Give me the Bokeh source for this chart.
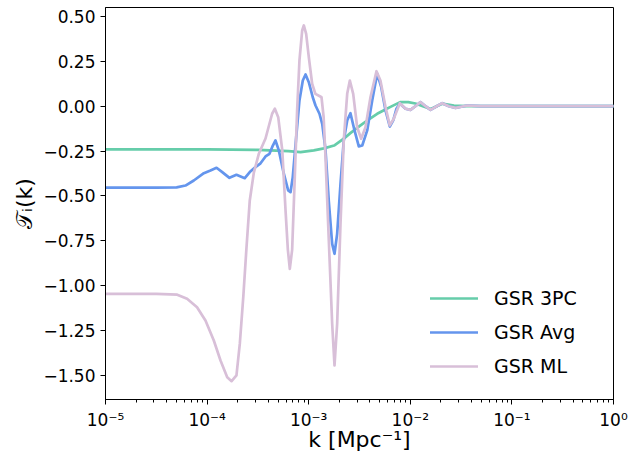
import numpy as np
from bokeh.plotting import figure
from bokeh.models import Range1d, FixedTicker, LogTicker, CustomJSTickFormatter
from bokeh.embed import file_html
from bokeh.resources import INLINE

# ---- data (log10 k, value) ----
log10_k_3pc = [-5.0, -4.5, -4.0, -3.5, -3.2, -3.08, -2.95, -2.85, -2.75, -2.655, -2.59,
               -2.49, -2.40, -2.326, -2.25, -2.20, -2.10, -2.02, -1.95, -1.87, -1.80,
               -1.74, -1.686, -1.57, -1.45, -1.0, 0.0]
t_3pc = [-0.24, -0.24, -0.24, -0.243, -0.25, -0.256, -0.246, -0.235, -0.219, -0.181, -0.15,
         -0.107, -0.07, -0.042, -0.02, -0.005, 0.023, 0.023, 0.015, -0.002, -0.015,
         0.0, 0.014, 0.004, 0.0, 0.0, 0.0]

log10_k_avg = [-5.0, -4.5, -4.30, -4.213, -4.131, -4.032, -3.967, -3.907, -3.851, -3.780,
               -3.711, -3.629, -3.580, -3.524, -3.474, -3.425, -3.386, -3.353, -3.327,
               -3.294, -3.245, -3.202, -3.179, -3.157, -3.123, -3.091, -3.058, -3.031,
               -2.999, -2.960, -2.933, -2.894, -2.867, -2.835, -2.802, -2.769, -2.746,
               -2.720, -2.687, -2.655, -2.621, -2.589, -2.549, -2.507, -2.473, -2.424,
               -2.375, -2.326, -2.286, -2.244, -2.202, -2.168, -2.136, -2.103, -2.047,
               -1.998, -1.95, -1.900, -1.85, -1.801, -1.74, -1.686, -1.62, -1.555,
               -1.440, -1.309, 0.0]
t_avg = [-0.454, -0.454, -0.452, -0.442, -0.414, -0.373, -0.358, -0.343, -0.367, -0.399,
         -0.382, -0.401, -0.367, -0.339, -0.318, -0.28, -0.265, -0.219, -0.191,
         -0.246, -0.376, -0.469, -0.479, -0.395, -0.172, 0.032, 0.143, 0.177,
         0.134, 0.05, 0.004, -0.042, -0.098, -0.24, -0.53, -0.767, -0.822,
         -0.711, -0.432, -0.191, -0.079, -0.039, -0.135, -0.224, -0.219, -0.135,
         0.032, 0.181, 0.106, -0.024, -0.113, -0.079, -0.014, 0.015, -0.014,
         -0.02, 0.0, 0.023, 0.0, -0.02, 0.0, 0.017, 0.0, -0.009,
         0.004, 0.0, 0.0]

log10_k_ml = [-5.0, -4.5, -4.294, -4.197, -4.099, -4.016, -3.934, -3.868, -3.802, -3.759,
              -3.711, -3.678, -3.644, -3.612, -3.580, -3.540, -3.491, -3.425, -3.36,
              -3.333, -3.300, -3.26, -3.228, -3.205, -3.186, -3.163, -3.137, -3.114,
              -3.091, -3.064, -3.048, -3.025, -2.999, -2.966, -2.934, -2.886, -2.874,
              -2.853, -2.835, -2.802, -2.769, -2.746, -2.720, -2.687, -2.655, -2.621,
              -2.595, -2.562, -2.523, -2.484, -2.441, -2.392, -2.333, -2.294, -2.244,
              -2.202, -2.163, -2.103, -2.047, -1.998, -1.95, -1.900, -1.85, -1.801,
              -1.74, -1.686, -1.62, -1.555, -1.440, -1.309, 0.0]
t_ml = [-1.045, -1.045, -1.05, -1.073, -1.12, -1.194, -1.305, -1.417, -1.51, -1.532,
        -1.50, -1.323, -1.064, -0.785, -0.525, -0.37, -0.265, -0.18, -0.042,
        -0.014, -0.061, -0.246, -0.58, -0.80, -0.906, -0.80, -0.395, -0.024,
        0.255, 0.422, 0.45, 0.403, 0.273, 0.125, 0.069, 0.054, 0.05,
        -0.06, -0.28, -0.748, -1.212, -1.444, -1.212, -0.655, -0.191, 0.069,
        0.143, 0.069, -0.117, -0.181, -0.117, 0.05, 0.195, 0.143, -0.005,
        -0.107, -0.07, 0.017, -0.014, -0.02, 0.0, 0.023, 0.0, -0.02,
        0.0, 0.017, 0.0, -0.009, 0.004, 0.0, 0.0]

labels = ["GSR 3PC", "GSR Avg", "GSR ML"]
colors = ["#66CDAA", "#6495ED", "#D8BFD8"]
y_ticks = [-1.5, -1.25, -1.0, -0.75, -0.5, -0.25, 0.0, 0.25, 0.5]
x_label = "k [Mpc\u207b\u00b9]"
y_label = "\U0001D4AF\u1D62(k)"

FONT = "DejaVu Sans"

p = figure(width=631, height=457, x_axis_type="log", output_backend="svg",
           toolbar_location=None, x_range=Range1d(1e-5, 1.0),
           y_range=Range1d(-1.634, 0.55),
           min_border_left=105, min_border_right=18, min_border_top=7,
           min_border_bottom=58)

series = [(log10_k_3pc, t_3pc), (log10_k_avg, t_avg), (log10_k_ml, t_ml)]
for (lk, t), lab, col in zip(series, labels, colors):
    k = 10.0 ** np.array(lk)
    p.line(k, t, line_color=col, line_width=2.7, legend_label=lab,
           line_join="round", line_cap="round")

p.grid.visible = False
p.outline_line_color = "black"
p.outline_line_width = 1
p.background_fill_color = "white"
p.border_fill_color = "white"

p.xaxis.ticker = LogTicker(desired_num_ticks=6, num_minor_ticks=10)
p.xaxis.formatter = CustomJSTickFormatter(code="""
const sup = {'-':'\u207b','0':'\u2070','1':'\u00b9','2':'\u00b2','3':'\u00b3','4':'\u2074',
             '5':'\u2075','6':'\u2076','7':'\u2077','8':'\u2078','9':'\u2079'};
const e = Math.round(Math.log10(tick));
return '10' + String(e).split('').map(c => sup[c]).join('');
""")
p.yaxis.ticker = FixedTicker(ticks=y_ticks)
p.yaxis.formatter = CustomJSTickFormatter(code="""
return (tick < -1e-9 ? '\u2212' : '') + Math.abs(tick).toFixed(2);
""")

for ax in (p.xaxis, p.yaxis):
    ax.axis_line_color = "black"
    ax.major_tick_line_color = "black"
    ax.minor_tick_line_color = "black"
    ax.major_tick_out = 5
    ax.major_tick_in = 0
    ax.minor_tick_out = 3
    ax.minor_tick_in = 0
    ax.major_label_text_font = FONT
    ax.major_label_text_font_size = "17px"
    ax.major_label_text_color = "black"
    ax.axis_label_text_font = FONT
    ax.axis_label_text_font_size = "22px"
    ax.axis_label_text_font_style = "normal"
    ax.axis_label_text_color = "black"

p.yaxis.minor_tick_line_color = None
p.xaxis.major_label_standoff = 5
p.yaxis.major_label_standoff = 5
p.yaxis.axis_label = y_label
p.yaxis.axis_label_standoff = 3
p.xaxis.axis_label = x_label
p.xaxis.axis_label_standoff = -6

leg = p.legend[0]
leg.location = (325, 18)
leg.border_line_color = None
leg.background_fill_alpha = 0
leg.padding = 0
leg.margin = 0
leg.spacing = 4
leg.glyph_width = 48
leg.glyph_height = 30
leg.label_height = 30
leg.label_standoff = 16
leg.label_text_font = FONT
leg.label_text_font_size = "19px"
leg.label_text_color = "black"

open("out.html", "w").write(file_html(p, INLINE))
